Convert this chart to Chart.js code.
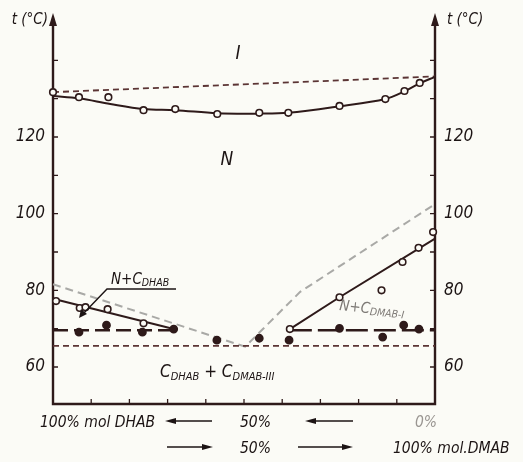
<!DOCTYPE html>
<html>
<head>
<meta charset="utf-8">
<script src="https://cdn.jsdelivr.net/npm/chart.js@4.4.0/dist/chart.umd.min.js"></script>
<style>
  html, body { margin: 0; padding: 0; background: #fbfbf6; }
  canvas { display: block; }
</style>
</head>
<body>
<canvas id="grafica" width="523" height="462"></canvas>
<script>
// eje x: % mol DMAB (0 = DHAB puro), eje y: t (°C)
const xMin = 0, xMax = 100;
const tMin = 50.35, tMax = 152.35;
const tTicks = [60, 70, 80, 90, 100, 110, 120, 130, 140];
const tLabels = [60, 80, 100, 120];
const xTicks = [10, 20, 30, 40, 50, 60, 70, 80, 90];

// transicion N -> I (circulos)
const niX = [0, 6.8, 14.5, 23.7, 32, 43, 54, 61.6, 75, 87, 92, 96];
const niT = [131.7, 130.4, 130.4, 127.0, 127.3, 126.0, 126.3, 126.3, 128.1, 129.9, 132.0, 134.1];

// curva continua N -> I
const curveX = [0, 6.8, 15, 23.7, 32, 43, 54, 61.6, 75, 87, 92, 96, 100];
const curveT = [130.7, 130.1, 128.6, 127.3, 127.0, 126.2, 126.1, 126.3, 128.0, 129.9, 131.9, 134.0, 135.7];

// linea ideal superior (discontinua)
const upperX = [0, 100];
const upperT = [131.7, 135.8];

// liquidus lado DHAB
const liqLX = [0, 31.6];
const liqLT = [77.8, 69.9];
const openLX = [0.8, 7.0, 8.5, 14.3, 23.7];
const openLT = [77.2, 75.4, 75.6, 75.1, 71.4];

// liquidus lado DMAB
const liqRX = [62, 75, 100];
const liqRT = [69.9, 78.2, 93.5];
const openRX = [62, 75, 86, 91.5, 95.7, 99.5];
const openRT = [69.9, 78.2, 80.0, 87.4, 91.1, 95.2];

// puntos llenos (solidus)
const solidX = [6.8, 14, 23.4, 31.6, 42.9, 54, 61.8, 75, 86.3, 91.8, 95.8];
const solidT = [69.1, 70.9, 69.1, 69.9, 67.0, 67.5, 67.0, 70.1, 67.8, 70.9, 69.9];

// horizontales
const eutLX = [0, 31.6], eutRX = [62, 100], eutT = 69.6;
const lowX = [0, 100], lowT = 65.5;

// V ideal (gris)
const vX = [0, 50.3, 64.7, 100];
const vT = [81.6, 65.3, 79.6, 102.5];

const pts = (xs, ts) => xs.map((x, i) => ({ x: x, y: Array.isArray(ts) ? ts[i] : ts }));

const DARK = "#2e1a1a";
const BROWN = "#5b3434";
const GREY = "#a9a9a6";
const BG = "#fbfbf6";
const FONT = "'DejaVu Sans Condensed', 'Liberation Sans', sans-serif";

function lineSet(data, color, width, dash, order, tension) {
    return {
        data: data, showLine: true, borderColor: color, borderWidth: width,
        borderDash: dash, pointRadius: 0, tension: tension || 0, clip: false, order: order
    };
}
function dotSet(data, filled, order) {
    return {
        data: data, showLine: false, pointRadius: filled ? 3.6 : 3.3, pointBorderWidth: 1.6,
        pointBorderColor: DARK, pointBackgroundColor: filled ? DARK : BG,
        clip: false, order: order
    };
}

// texto con subindice: partes [texto, tamaño, desplazamiento]
function subText(ctx, x, y, parts) {
    let cx = x;
    parts.forEach(p => {
        ctx.font = "italic " + p[1] + "px " + FONT;
        ctx.fillText(p[0], cx, y + (p[2] || 0));
        cx += ctx.measureText(p[0]).width;
    });
}

function arrow(ctx, x1, x2, y) {
    // flecha horizontal de x1 hacia x2
    const dir = x2 > x1 ? 1 : -1;
    ctx.beginPath();
    ctx.moveTo(x1, y);
    ctx.lineTo(x2 - dir * 6, y);
    ctx.stroke();
    ctx.beginPath();
    ctx.moveTo(x2, y);
    ctx.lineTo(x2 - dir * 11, y - 3);
    ctx.lineTo(x2 - dir * 11, y + 3);
    ctx.closePath();
    ctx.fill();
}

const decoraciones = {
    id: "decoraciones",
    beforeDatasetsDraw(chart) {
        const ctx = chart.ctx;
        const xs = chart.scales.x, ys = chart.scales.y;
        const L = xs.getPixelForValue(xMin), R = xs.getPixelForValue(xMax);
        const B = ys.getPixelForValue(tMin), T = ys.getPixelForValue(tMax);
        ctx.save();
        ctx.strokeStyle = DARK;
        ctx.fillStyle = DARK;
        ctx.lineWidth = 2.4;
        ctx.beginPath();
        ctx.moveTo(L, T + 8); ctx.lineTo(L, B); ctx.lineTo(R, B); ctx.lineTo(R, T + 8);
        ctx.stroke();
        // flechas de los ejes
        [L, R].forEach(px => {
            ctx.beginPath();
            ctx.moveTo(px, T);
            ctx.lineTo(px - 4, T + 13);
            ctx.lineTo(px + 4, T + 13);
            ctx.closePath();
            ctx.fill();
        });
        // marcas
        ctx.lineWidth = 1.3;
        tTicks.forEach(t => {
            const py = ys.getPixelForValue(t);
            ctx.beginPath();
            ctx.moveTo(L, py); ctx.lineTo(L + 5, py);
            ctx.moveTo(R, py); ctx.lineTo(R - 5, py);
            ctx.stroke();
        });
        xTicks.forEach(v => {
            const px = xs.getPixelForValue(v);
            ctx.beginPath();
            ctx.moveTo(px, B); ctx.lineTo(px, B - 5);
            ctx.stroke();
        });
        ctx.restore();
    },
    afterDraw(chart) {
        const ctx = chart.ctx;
        const xs = chart.scales.x, ys = chart.scales.y;
        const L = xs.getPixelForValue(xMin), R = xs.getPixelForValue(xMax);
        ctx.save();
        ctx.fillStyle = "#1c1414";
        ctx.strokeStyle = "#1c1414";
        ctx.textBaseline = "middle";
        ctx.font = "italic 17px " + FONT;
        tLabels.forEach(t => {
            const py = ys.getPixelForValue(t);
            ctx.textAlign = "right";
            ctx.fillText(String(t), L - 8, py);
            ctx.textAlign = "left";
            ctx.fillText(String(t), R + 9, py);
        });
        ctx.font = "italic 15px " + FONT;
        ctx.textAlign = "right";
        ctx.fillText("t (°C)", L - 5, 20);
        ctx.textAlign = "left";
        ctx.fillText("t (°C)", R + 12, 20);

        ctx.textBaseline = "alphabetic";
        ctx.textAlign = "center";
        ctx.font = "italic 19px " + FONT;
        ctx.fillText("I", 238, 59);
        ctx.fillText("N", 227, 165);

        // N + C DHAB con su flecha
        ctx.textAlign = "left";
        subText(ctx, 111, 284, [["N+C", 15], ["DHAB", 10.5, 2]]);
        ctx.lineWidth = 1.4;
        ctx.beginPath();
        ctx.moveTo(176, 289); ctx.lineTo(107, 289); ctx.lineTo(82, 315);
        ctx.stroke();
        ctx.beginPath();
        ctx.moveTo(79, 318); ctx.lineTo(81, 309); ctx.lineTo(87, 314);
        ctx.closePath();
        ctx.fill();

        // N + C DMAB-I (gris, inclinado)
        ctx.save();
        ctx.translate(339, 310);
        ctx.rotate(0.1);
        ctx.fillStyle = "#7e7a76";
        subText(ctx, 0, 0, [["N+C", 15], ["DMAB-I", 10.5, 2]]);
        ctx.restore();

        subText(ctx, 160, 377, [["C", 17], ["DHAB", 11, 3], [" + C", 17], ["DMAB-III", 11, 3]]);

        // textos inferiores
        ctx.lineWidth = 1.6;
        ctx.font = "italic 15.5px " + FONT;
        ctx.fillText("100% mol DHAB", 40, 427);
        ctx.fillText("50%", 240, 427);
        ctx.fillStyle = "#9a9692";
        ctx.fillText("0%", 415, 427);
        ctx.fillStyle = "#1c1414";
        arrow(ctx, 212, 165, 421);
        arrow(ctx, 353, 305, 421);
        ctx.fillText("50%", 240, 453);
        ctx.fillText("100% mol.DMAB", 393, 453);
        arrow(ctx, 167, 213, 447);
        arrow(ctx, 298, 353, 447);
        ctx.restore();
    }
};

new Chart(document.getElementById("grafica"), {
    type: "scatter",
    data: {
        datasets: [
            dotSet(pts(niX, niT), false, 0),
            dotSet(pts(openLX, openLT), false, 0),
            dotSet(pts(openRX, openRT), false, 0),
            dotSet(pts(solidX, solidT), true, 0),
            lineSet(pts(curveX, curveT), DARK, 2, [], 2, 0.35),
            lineSet(pts(upperX, upperT), BROWN, 1.8, [6, 4], 3),
            lineSet(pts(liqLX, liqLT), DARK, 2, [], 2),
            lineSet(pts(liqRX, liqRT), DARK, 2, [], 2),
            lineSet(pts(eutLX, eutT), DARK, 2.6, [15, 6], 2),
            lineSet(pts(eutRX, eutT), DARK, 2.6, [22, 6], 2),
            lineSet(pts(lowX, lowT), BROWN, 1.8, [6, 4], 3),
            lineSet(pts(vX, vT), GREY, 2, [8, 5], 4)
        ]
    },
    options: {
        responsive: false,
        animation: false,
        devicePixelRatio: 1,
        layout: { padding: { left: 53, right: 88, top: 13, bottom: 58 } },
        plugins: { legend: { display: false }, tooltip: { enabled: false } },
        scales: {
            x: { type: "linear", min: xMin, max: xMax, display: false },
            y: { type: "linear", min: tMin, max: tMax, display: false }
        }
    },
    plugins: [decoraciones]
});
</script>
</body>
</html>
